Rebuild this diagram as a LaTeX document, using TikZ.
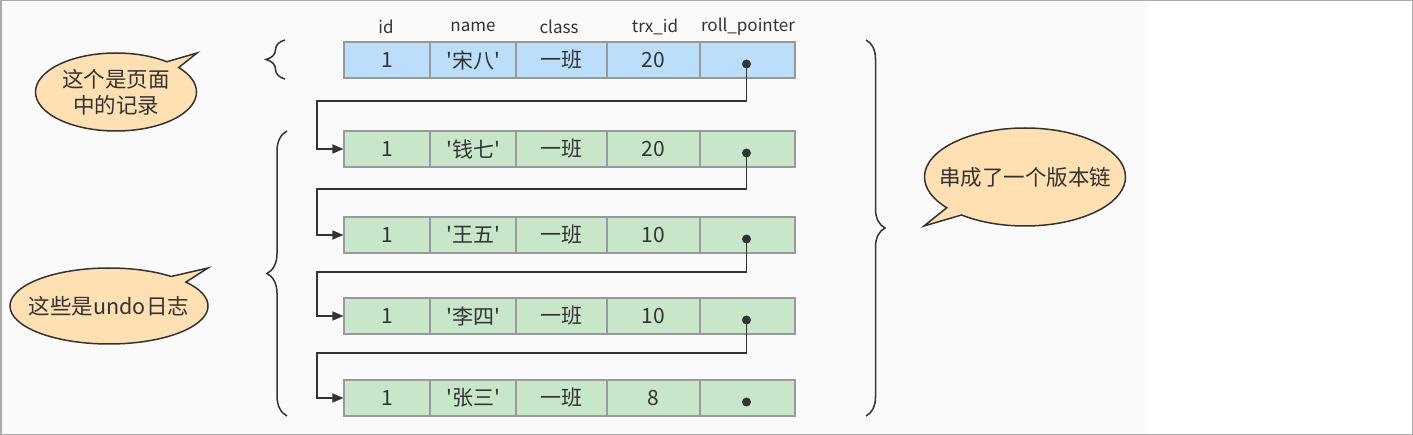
\documentclass[tikz,border=0pt]{standalone}
\usepackage{fontspec}
\newfontfamily\cjk{Noto Sans CJK SC}
\usetikzlibrary{arrows.meta,calc,shapes.callouts,shapes.geometric,decorations.pathreplacing}
\definecolor{bgpanel}{HTML}{FAFAFA}
\definecolor{frame}{HTML}{ABABAB}
\definecolor{ink}{HTML}{333333}
\definecolor{cellline}{HTML}{999999}
\definecolor{rowblue}{HTML}{BBDEFB}
\definecolor{rowgreen}{HTML}{C8E6C9}
\definecolor{bubble}{HTML}{FFE0B2}
\begin{document}
\begin{tikzpicture}[x=1pt,y=-1pt,
  font=\cjk, text=ink,
  cell/.style={draw=cellline, line width=1.1pt, minimum height=36pt, inner sep=0pt, font=\cjk\fontsize{21}{25}\selectfont},
  hdr/.style={font=\cjk\fontsize{17}{20}\selectfont, inner sep=0pt},
  conn/.style={draw=ink, line width=1.5pt},
  arr/.style={conn, -{Triangle[length=11pt,width=9pt]}},
  dotmark/.style={fill=ink},
  bracestyle/.style={draw=ink, line width=1.5pt, decorate, decoration={brace, amplitude=#1}},
  bubblenode/.style={ellipse callout, fill=bubble, draw=ink, line width=1.5pt, inner xsep=-30pt, inner ysep=-25pt, align=center, font=\cjk\fontsize{21.5}{26}\selectfont, callout pointer arc=12},
]
\useasboundingbox (0,0) rectangle (1413,435);
\fill[bgpanel] (0,0) rectangle (1148,435);
\draw[frame, line width=1.5pt] (0.75,0.75) rectangle (1412.25,434.25);

% headers
\node[hdr] (h1) at (386,27) {id};
\node[hdr] (h2) at (473,27) {name};
\node[hdr] (h3) at (559,27) {class};
\node[hdr] (h4) at (655,27) {trx\_id};
\node[hdr] (h5) at (748,27) {roll\_pointer};

% rows
\foreach \r/\y/\nm/\t/\fc in {1/60/'宋八'/20/rowblue, 2/149/'钱七'/20/rowgreen, 3/235/'王五'/10/rowgreen, 4/316/'李四'/10/rowgreen, 5/398/'张三'/8/rowgreen}{
  \node[cell, fill=\fc, minimum width=86pt] (r\r-c1) at (387,\y) {1};
  \node[cell, fill=\fc, minimum width=86pt] (r\r-c2) at (473,\y) {\nm};
  \node[cell, fill=\fc, minimum width=91pt] (r\r-c3) at (561.5,\y) {一班};
  \node[cell, fill=\fc, minimum width=93pt] (r\r-c4) at (653.5,\y) {\t};
  \node[cell, fill=\fc, minimum width=95pt] (r\r-c5) at (747.5,\y) {};
  \coordinate (d\r) at ($(r\r-c5.center)+(-1,4)$);
}

% connectors
\foreach \r/\hy in {1/101,2/189,3/272,4/353}{
  \pgfmathtruncatemacro\nx{\r+1}
  \coordinate (k\r) at (317,\hy);
  \draw[arr] (d\r) |- (k\r) |- (r\nx-c1.west);
}
\foreach \r in {1,...,5}{
  \fill[dotmark] (d\r) circle (4.5pt);
}

% braces
\coordinate (b1s) at (285,79);
\coordinate (b1e) at (285,40);
\draw[bracestyle=19pt] (b1s) -- (b1e);
\coordinate (b2s) at (287,416);
\coordinate (b2e) at (287,131);
\draw[bracestyle=20pt] (b2s) -- (b2e);
\coordinate (b3s) at (866,40);
\coordinate (b3e) at (866,416);
\draw[bracestyle=19pt] (b3s) -- (b3e);

% callouts
\node[bubblenode, minimum width=161pt, minimum height=78pt, callout absolute pointer={(197,53)}] (c1) at (116,92) {这个是页面\\中的记录};
\node[bubblenode, minimum width=198pt, minimum height=76pt, callout absolute pointer={(208,268)}] (c2) at (109,306) {这些是undo日志};
\node[bubblenode, minimum width=201pt, minimum height=98pt, callout absolute pointer={(924,226)}] (c3) at (1025,177) {串成了一个版本链};
\end{tikzpicture}
\end{document}
